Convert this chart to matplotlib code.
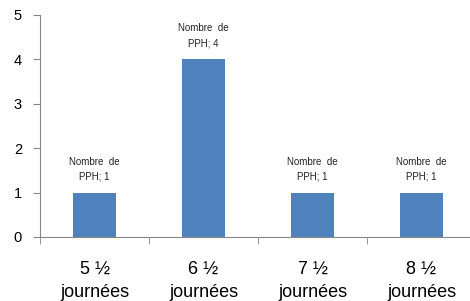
import numpy as np
import matplotlib
matplotlib.use("Agg")
import matplotlib.pyplot as plt

# DATA
categories = ["5 \u00bd\njourn\u00e9es", "6 \u00bd\njourn\u00e9es", "7 \u00bd\njourn\u00e9es", "8 \u00bd\njourn\u00e9es"]
values = [1, 4, 1, 1]
series_name = "Nombre de PPH"

plt.rcParams['font.family'] = ['Liberation Sans', 'DejaVu Sans']

fig = plt.figure(figsize=(4.7, 3.01), dpi=100)
ax = fig.add_axes([40 / 470, 64 / 301, 436 / 470, 222 / 301])

x = np.arange(len(values))
bars = ax.bar(x, values, width=0.4, color="#4F81BD", zorder=2)

# data labels
for xi, v in zip(x, values):
    ax.annotate("Nombre  de\nPPH; %d" % v, (xi, v), xytext=(0, 8),
                textcoords="offset points", ha="center", va="bottom",
                fontsize=7, color="#222222", linespacing=1.6)

ax.set_xlim(-0.5, 3.5)
ax.set_ylim(0, 5)
ax.set_yticks(range(6))
ax.tick_params(axis="y", labelsize=10.5, length=5, color="#868686", pad=8)

ax.set_xticks(x)
ax.set_xticklabels(categories, fontsize=13, linespacing=1.5)
ax.tick_params(axis="x", which="major", length=0, pad=17)
ax.set_xticks(np.arange(-0.5, 3.6, 1), minor=True)
ax.tick_params(axis="x", which="minor", length=5, color="#868686")

for s in ["top", "right"]:
    ax.spines[s].set_visible(False)
for s in ["left", "bottom"]:
    ax.spines[s].set_color("#868686")

fig.savefig("out.png", dpi=100)
